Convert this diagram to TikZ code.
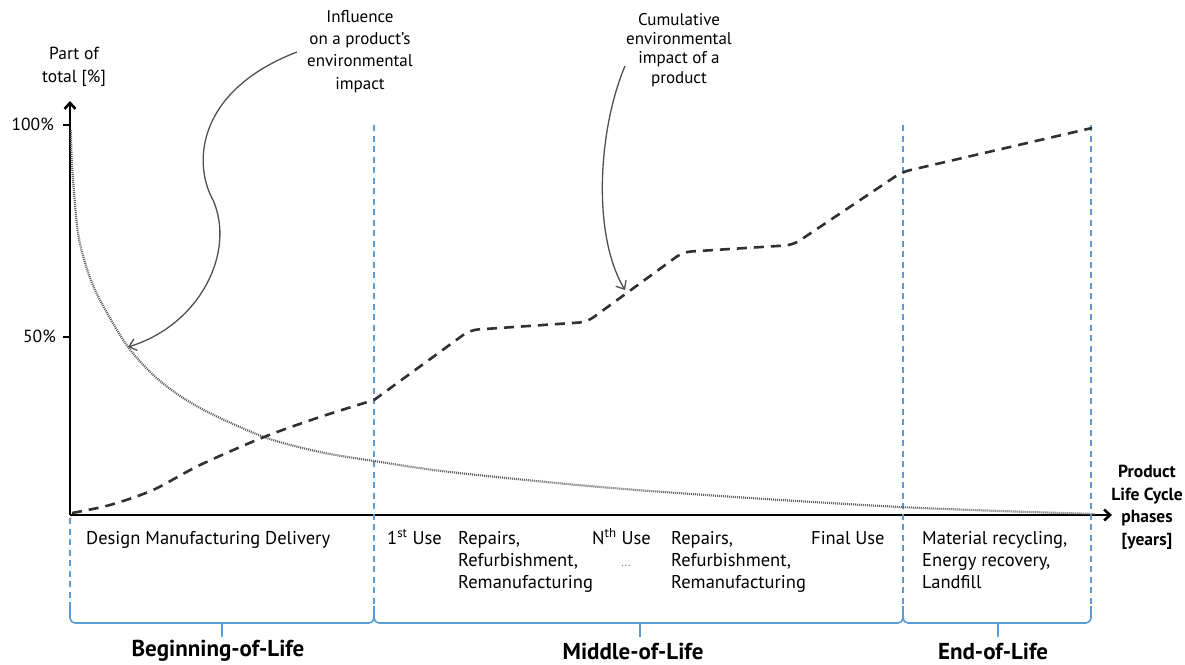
\documentclass[tikz,border=0pt]{standalone}
\usepackage{fontspec}
\setmainfont{PT Sans}
\usetikzlibrary{arrows.meta}
\definecolor{phaseblue}{HTML}{5B9BD5}
\definecolor{curvegray}{HTML}{303030}
\definecolor{dotgray}{HTML}{606060}
\definecolor{anngray}{HTML}{505050}
\begin{document}
\begin{tikzpicture}[x=1pt,y=-1pt,
  txt/.style={font=\fontsize{18.5}{22}\selectfont, inner sep=0pt, align=left},
  anntxt/.style={font=\fontsize{17}{22.3}\selectfont, inner sep=0pt, align=center},
  phase/.style={font=\bfseries\fontsize{23}{26}\selectfont, inner sep=0pt},
  axis/.style={line width=2.6pt, -{Straight Barb[length=6pt,width=11pt]}},
  phaseline/.style={phaseblue, line width=1.6pt, dash pattern=on 6pt off 4.5pt},
  brace/.style={phaseblue, line width=1.6pt, rounded corners=5pt},
  cumul/.style={curvegray, line width=2.6pt, dash pattern=on 10pt off 7pt},
  influ/.style={dotgray, line width=2.2pt, dash pattern=on 1pt off 1pt},
  annarrow/.style={anngray, line width=1.3pt, -{Straight Barb[length=7pt,width=12pt]}}
]
\useasboundingbox (0,0) rectangle (1185,664);

% axes
\coordinate (O) at (70,515);
\coordinate (ytip) at (70,101);
\coordinate (xtip) at (1112,515);
\draw[axis] (O) -- (ytip);
\draw[axis] (O) -- (xtip);

% y ticks and labels
\coordinate (t100) at (70,125);
\coordinate (t50) at (70,337);
\draw[line width=1.6pt] (t100) -- ++(-7,0);
\draw[line width=1.6pt] (t50) -- ++(-7,0);
\node[txt, font=\fontsize{17.5}{22}\selectfont, anchor=base east] (l100) at (54,130) {100\%};
\node[txt, font=\fontsize{17.5}{22}\selectfont, anchor=base east] (l50) at (56,342) {50\%};
\node[anntxt, font=\fontsize{17.5}{23}\selectfont, anchor=base] (ylab) at (74,82) {Part of\\total {[\%]}};

% phase separator lines
\draw[phaseline] (70,518) -- (70,606);
\draw[phaseline] (374,125) -- (374,606);
\draw[phaseline] (903,125) -- (903,606);
\draw[phaseline] (1091,125) -- (1091,606);

% braces
\draw[brace] (70,606) -- (70,623) -- (374,623) -- (374,606);
\draw[brace] (374,606) -- (374,623) -- (903,623) -- (903,606);
\draw[brace] (903,606) -- (903,623) -- (1091,623) -- (1091,606);
\draw[phaseblue, line width=1.6pt] (222,623) -- (222,637);
\draw[phaseblue, line width=1.6pt] (640,623) -- (640,637);
\draw[phaseblue, line width=1.6pt] (998,623) -- (998,637);

% phase labels
\node[phase] (bol) at (218,651) {Beginning-of-Life};
\node[phase] (mol) at (633,651) {Middle-of-Life};
\node[phase] (eol) at (993,651) {End-of-Life};

% influence curve (dotted)
\draw[influ] plot[smooth, tension=0.5] coordinates {(71,130) (72,165) (78,233) (88,272) (100,300) (128,347) (160,381) (200,408) (264,437) (320,452) (374,461) (450,472) (600,487) (750,498) (900,507) (1000,511) (1095,514)};

% cumulative curve (dashed)
\draw[cumul] plot[smooth, tension=0.5] coordinates {(72,513) (110,505) (153,490) (200,465) (264,437) (320,417) (374,400)}
  [rounded corners=8pt] -- (470,330) -- (587,322) -- (683,252) -- (793,245) -- (902,172) -- (1092,128);

% annotation texts
\node[anntxt, anchor=base] (infl) at (360,89) {Influence\\on a product’s\\environmental\\impact};
\node[anntxt, anchor=base, font=\fontsize{17}{19.3}\selectfont] (cum) at (679,83) {Cumulative\\environmental\\impact of a\\product};

% annotation arrows
\coordinate (a1s) at (297,52);
\coordinate (a1m) at (213,200);
\coordinate (a1e) at (128,347);
\draw[annarrow] (a1s) .. controls (198,90) and (192,162) .. (a1m) .. controls (236,252) and (200,325) .. (a1e);
\coordinate (a2s) at (625,66);
\coordinate (a2e) at (625,290);
\draw[annarrow] (a2s) .. controls (598,130) and (592,235) .. (a2e);

% x-axis phase texts
\node[txt, anchor=base west] (bolt) at (86,544) {Design Manufacturing Delivery};
\node[txt, anchor=base west] (use1) at (387,544) {1\textsuperscript{st} Use};
\node[txt, anchor=base west] (rep1) at (458,588) {Repairs,\\Refurbishment,\\Remanufacturing};
\node[txt, anchor=base west] (usen) at (592,544) {N\textsuperscript{th} Use};
\node[inner sep=0pt, font=\fontsize{12}{12}\selectfont, text=gray] (dots) at (626,566) {...};
\node[txt, anchor=base west] (rep2) at (671,588) {Repairs,\\Refurbishment,\\Remanufacturing};
\node[txt, anchor=base west] (final) at (811,544) {Final Use};
\node[txt, anchor=base west] (eolt) at (922,588) {Material recycling,\\Energy recovery,\\Landfill};
\node[anntxt, anchor=base, font=\bfseries\fontsize{17.5}{22.5}\selectfont] (xlab) at (1147,545) {Product\\Life Cycle\\phases\\{[years]}};
\end{tikzpicture}
\end{document}
